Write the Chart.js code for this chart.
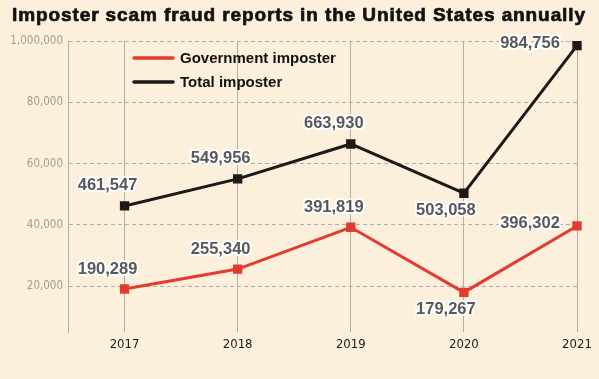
<!DOCTYPE html>
<html>
<head>
<meta charset="utf-8">
<script src="https://cdn.jsdelivr.net/npm/chart.js@4/dist/chart.umd.min.js"></script>
<style>
  html, body { margin: 0; padding: 0; background: #fcefdb; }
  #wrap { width: 599px; height: 379px; }
</style>
</head>
<body>
<div id="wrap"><canvas id="chart" width="599" height="379"></canvas></div>
<script>
// data
var titleText = 'Imposter scam fraud reports in the United States annually';
var years = [2017, 2018, 2019, 2020, 2021];
var govImposter = [190289, 255340, 391819, 179267, 396302];
var totalImposter = [461547, 549956, 663930, 503058, 984756];
var seriesNames = ['Government imposter', 'Total imposter'];
// tick values and the labels printed on the original (sic)
var yTickValues = [200000, 400000, 600000, 800000, 1000000];
var yTickLabels = ['20,000', '40,000', '60,000', '80,000', '1,000,000'];

// where each value label sits relative to its point
var govLabelPos = ['above', 'above', 'above', 'below', 'left'];
var totalLabelPos = ['above', 'above', 'above', 'below', 'left'];

var bgColor = '#fcefdb';
var redColor = '#e23b2f';
var blackColor = '#1d1917';
var gridColor = '#b3ada3';
var narrowFont = "'Liberation Sans Narrow', 'DejaVu Sans Condensed', 'Liberation Sans', sans-serif";

function toPoints(values) {
    return years.map(function(y, i) { return { x: y, y: values[i] }; });
}

function fmt(n) {
    return n.toLocaleString('en-US');
}

var backgroundPlugin = {
    id: 'bg',
    beforeDraw: function(chart) {
        var ctx = chart.ctx;
        ctx.save();
        ctx.fillStyle = bgColor;
        ctx.fillRect(0, 0, chart.width, chart.height);
        ctx.restore();
    }
};

var titlePlugin = {
    id: 'bigTitle',
    afterDraw: function(chart) {
        var ctx = chart.ctx;
        ctx.save();
        ctx.font = "bold 19px 'Liberation Sans', Arial, sans-serif";
        ctx.letterSpacing = '0.9px';
        ctx.fillStyle = '#111';
        ctx.strokeStyle = '#111';
        ctx.lineWidth = 0.7;
        ctx.textBaseline = 'middle';
        ctx.textAlign = 'left';
        ctx.fillText(titleText, 12, 16);
        ctx.strokeText(titleText, 12, 16);
        ctx.restore();
    }
};

var legendPlugin = {
    id: 'innerLegend',
    afterDraw: function(chart) {
        var ctx = chart.ctx;
        var area = chart.chartArea;
        var x0 = area.left + 66;
        ctx.save();
        chart.data.datasets.forEach(function(ds, i) {
            var y = area.top + 17 + i * 24;
            ctx.strokeStyle = ds.borderColor;
            ctx.lineWidth = 3.5;
            ctx.lineCap = 'round';
            ctx.beginPath();
            ctx.moveTo(x0, y);
            ctx.lineTo(x0 + 39, y);
            ctx.stroke();
            ctx.font = "bold 15px 'Liberation Sans', Arial, sans-serif";
            ctx.fillStyle = '#111';
            ctx.textBaseline = 'middle';
            ctx.textAlign = 'left';
            ctx.fillText(ds.label, x0 + 46, y + 1);
        });
        ctx.restore();
    }
};

var valueLabelPlugin = {
    id: 'valueLabels',
    afterDatasetsDraw: function(chart) {
        var ctx = chart.ctx;
        ctx.save();
        ctx.font = "bold 16.5px 'Liberation Sans', Arial, sans-serif";
        ctx.textAlign = 'center';
        ctx.textBaseline = 'middle';
        ctx.lineJoin = 'round';
        chart.data.datasets.forEach(function(ds, i) {
            var meta = chart.getDatasetMeta(i);
            meta.data.forEach(function(pt, j) {
                var pos = ds.labelPos[j];
                var dx = -17, dy = -20;
                if (pos == 'below') { dx = -18; dy = 17; }
                if (pos == 'left') { dx = -47; dy = -2; }
                var txt = fmt(ds.data[j].y);
                ctx.strokeStyle = 'rgba(255,255,255,0.9)';
                ctx.lineWidth = 4;
                ctx.strokeText(txt, pt.x + dx, pt.y + dy);
                ctx.fillStyle = '#57585c';
                ctx.fillText(txt, pt.x + dx, pt.y + dy);
            });
        });
        ctx.restore();
    }
};

var ctx = document.getElementById('chart').getContext('2d');
var myChart = new Chart(ctx, {
    type: 'line',
    data: {
        datasets: [{
            label: seriesNames[0],
            data: toPoints(govImposter),
            labelPos: govLabelPos,
            borderColor: redColor,
            backgroundColor: redColor,
            borderWidth: 3,
            pointStyle: 'rect',
            pointRadius: 4.5,
            pointHoverRadius: 4.5,
            clip: false
        }, {
            label: seriesNames[1],
            data: toPoints(totalImposter),
            labelPos: totalLabelPos,
            borderColor: blackColor,
            backgroundColor: blackColor,
            borderWidth: 3,
            pointStyle: 'rect',
            pointRadius: 4.5,
            pointHoverRadius: 4.5,
            clip: false
        }]
    },
    options: {
        responsive: false,
        animation: false,
        layout: {
            padding: { top: 41, right: 22, bottom: 0, left: 0 }
        },
        plugins: {
            legend: { display: false },
            title: { display: false },
            tooltip: { enabled: false }
        },
        scales: {
            x: {
                type: 'linear',
                min: 2016.5,
                max: 2021,
                afterBuildTicks: function(axis) {
                    axis.ticks = years.map(function(y) { return { value: y }; });
                },
                afterFit: function(axis) {
                    axis.height = 47;
                },
                grid: {
                    color: gridColor,
                    lineWidth: 1,
                    drawTicks: false
                },
                border: { display: false },
                ticks: {
                    padding: 5,
                    color: '#1f1b18',
                    font: { family: narrowFont, size: 13 },
                    callback: function(v) { return String(v); }
                }
            },
            y: {
                min: 50000,
                max: 1000000,
                afterBuildTicks: function(axis) {
                    axis.ticks = yTickValues.map(function(v) { return { value: v }; });
                },
                afterFit: function(axis) {
                    axis.width = 68;
                },
                grid: {
                    color: gridColor,
                    lineWidth: 1,
                    drawTicks: false
                },
                border: {
                    display: true,
                    color: gridColor,
                    width: 1,
                    dash: [4, 3]
                },
                ticks: {
                    padding: 5,
                    color: '#a39d93',
                    font: { family: narrowFont, size: 11.5 },
                    callback: function(v) {
                        var k = yTickValues.indexOf(v);
                        return k >= 0 ? yTickLabels[k] : '';
                    }
                }
            }
        }
    },
    plugins: [backgroundPlugin, valueLabelPlugin, legendPlugin, titlePlugin]
});
</script>
</body>
</html>
